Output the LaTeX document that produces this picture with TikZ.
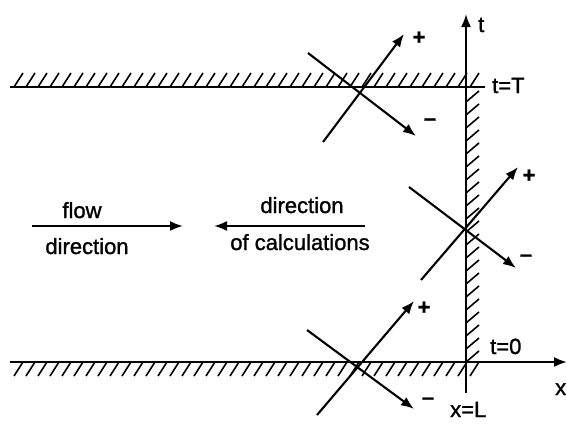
\documentclass[tikz,border=0pt]{standalone}
\usepackage{fontspec}
\setmainfont{Liberation Sans}
\newfontfamily\heavy[FakeBold=1.2]{Liberation Sans}
\usetikzlibrary{arrows.meta}
\begin{document}
\begin{tikzpicture}[x=1pt,y=-1pt,
  ln/.style={line width=2.1pt},
  arr/.style={line width=2.1pt,-{Latex[length=13pt,width=10pt]}},
  hatch/.style={line width=1.6pt},
  lbl/.style={font=\heavy\fontsize{22}{24}\selectfont,inner sep=0pt},
  sgn/.style={font=\heavy\bfseries\fontsize{22}{24}\selectfont,inner sep=0pt}]
\useasboundingbox (0,0) rectangle (567,423);
% axes and boundaries
\coordinate (tl) at (10,87);
\coordinate (tr) at (485,87);
\coordinate (bl) at (10,362);
\coordinate (br) at (567,362);
\coordinate (vb) at (466,393);
\coordinate (vt) at (466,14);
\draw[ln] (tl) -- (tr);
\draw[arr] (bl) -- (br);
\draw[arr] (vb) -- (vt);
% hatching
\foreach \x in {14,26,...,474} \draw[hatch] (\x,87) -- (\x+9,73);
\foreach \x in {14,26,...,474} \draw[hatch] (\x,376) -- (\x+9,362);
\foreach \y in {102,115,...,362} \draw[hatch] (466,\y) -- (479,\y-11);
% labels
\node[lbl,anchor=base west] (t) at (478,32) {t};
\node[lbl,anchor=base west] (tT) at (492,93) {t=T};
\node[lbl,anchor=base west] (t0) at (490,354) {t=0};
\node[lbl,anchor=base west] (x) at (555,395) {x};
\node[lbl,anchor=base west] (xL) at (450,417) {x=L};
% top characteristics
\coordinate (p1a) at (323,142); \coordinate (p1b) at (404,34);
\coordinate (m1a) at (308,53);  \coordinate (m1b) at (416,136);
\draw[arr] (p1a) -- (p1b);
\draw[arr] (m1a) -- (m1b);
\node[sgn] (plus1) at (419,38) {+};
\node[sgn] (minus1) at (430,122) {–};
% middle characteristics
\coordinate (p2a) at (421,280); \coordinate (p2b) at (518,167);
\coordinate (m2a) at (409,187); \coordinate (m2b) at (516,268);
\draw[arr] (p2a) -- (p2b);
\draw[arr] (m2a) -- (m2b);
\node[sgn] (plus2) at (529,176) {+};
\node[sgn] (minus2) at (526,258) {–};
% bottom characteristics
\coordinate (p3a) at (317,415); \coordinate (p3b) at (414,301);
\coordinate (m3a) at (307,330); \coordinate (m3b) at (414,409);
\draw[arr] (p3a) -- (p3b);
\draw[arr] (m3a) -- (m3b);
\node[sgn] (plus3) at (424,308) {+};
\node[sgn] (minus3) at (428,401) {–};
% direction arrows
\coordinate (f1) at (32,226); \coordinate (f2) at (183,226);
\draw[arr] (f1) -- (f2);
\node[lbl,anchor=base] (flow) at (82,218) {flow};
\node[lbl,anchor=base] (fdir) at (87,254) {direction};
\coordinate (c1) at (365,226); \coordinate (c2) at (214,226);
\draw[arr] (c1) -- (c2);
\node[lbl,anchor=base] (cdir) at (302,213) {direction};
\node[lbl,anchor=base] (calc) at (300,250) {of calculations};
\end{tikzpicture}
\end{document}
